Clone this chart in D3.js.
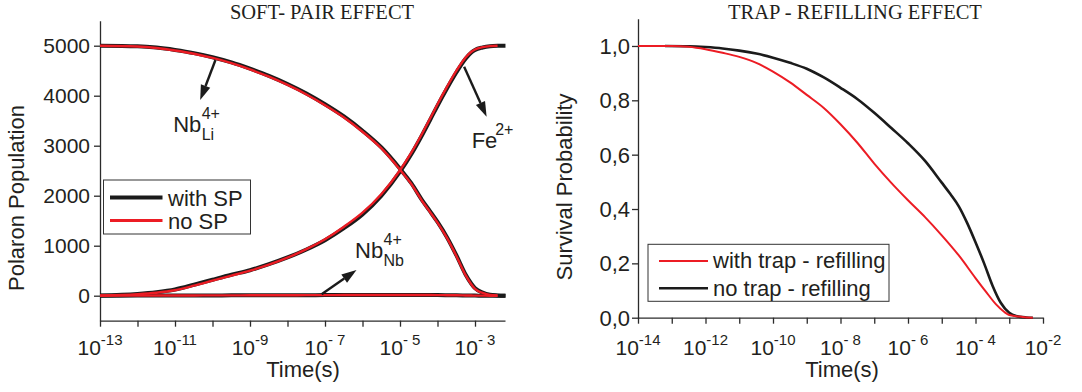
<!DOCTYPE html>
<html><head><meta charset="utf-8">
<script src="https://cdn.jsdelivr.net/npm/d3@7"></script>
<style>
body{margin:0;background:#fff;}
svg text{font-family:"Liberation Sans", Arial, sans-serif; fill:#231f20;}
</style></head><body>
<svg id="c" width="1082" height="392"></svg>
<script>
// ---------- LEFT PANEL DATA (SOFT-PAIR EFFECT) ----------
const leftTimeBlack = [1e-13,1e-12,3.2e-12,1e-11,3.2e-11,1e-10,3.2e-10,1e-9,3.2e-9,1e-8,3.2e-8,1e-7,3.2e-7,1e-6,3.2e-6,1e-5,2e-5,4e-5,6.3e-5,1e-4,1.8e-4,3.2e-4,5.6e-4,8e-4,1e-3,1.6e-3,2.5e-3,4e-3,6.5e-3];
const leftTimeRed   = [1e-13,1e-12,3.2e-12,1e-11,3.2e-11,1e-10,3.2e-10,1e-9,3.2e-9,1e-8,3.2e-8,1e-7,3.2e-7,1e-6,3.2e-6,1e-5,2e-5,4e-5,6.3e-5,1e-4,1.8e-4,3.2e-4,5.6e-4,8e-4,1e-3,1.6e-3,2.5e-3,4e-3];
const nbLiWithSP = [5000,4988,4962,4915,4852,4768,4665,4540,4398,4235,4045,3830,3585,3300,2965,2540,2250,1895,1690,1475,1165,805,425,240,150,60,18,6,0];
const nbLiNoSP   = [5000,4985,4955,4905,4840,4755,4650,4525,4380,4215,4025,3810,3565,3280,2945,2520,2235,1880,1675,1460,1150,790,410,225,135,55,15,5];
const feWithSP   = [5,35,70,125,220,320,420,510,630,765,925,1110,1350,1625,2000,2480,2830,3230,3510,3800,4150,4470,4740,4865,4915,4965,4990,4998,5000];
const feNoSP     = [5,30,60,110,200,300,400,500,620,760,930,1130,1380,1660,2035,2510,2860,3260,3540,3830,4180,4500,4765,4878,4925,4972,4992,4998];
const nbNbWithSP = [0,2,3,4,5,6,7,8,9,10,11,12,13,13,14,14,14,14,13,12,10,8,5,3,2,1,0,0,0];
const nbNbNoSP   = [0,2,3,4,5,6,7,8,9,10,11,12,13,14,15,15,15,15,14,12,10,8,5,3,2,1,0,0];
const leftYTicks = [0,1000,2000,3000,4000,5000];
const leftXTickVals = [1e-13,1e-11,1e-9,1e-7,1e-5,1e-3];
const leftXTickExps = ["-13","-11","-9","- 7","- 5","- 3"];
const leftLegend = ["with SP","no SP"];

// ---------- RIGHT PANEL DATA (TRAP-REFILLING EFFECT) ----------
const rightTimeRed = [1e-14,1e-13,3.2e-13,1e-12,3.2e-12,1e-11,3.2e-11,1e-10,3.2e-10,1e-9,3.2e-9,1e-8,3.2e-8,1e-7,3.2e-7,1e-6,3.2e-6,1e-5,3.2e-5,1e-4,2e-4,4e-4,7e-4,1e-3,2.5e-3,5e-3];
const withTrap     = [1.0,1.0,0.997,0.988,0.975,0.960,0.938,0.906,0.866,0.820,0.772,0.712,0.643,0.567,0.496,0.432,0.370,0.303,0.229,0.146,0.097,0.050,0.022,0.010,0.003,0.0];
const rightTimeBlack = [6.3e-14,3.2e-13,1e-12,3.2e-12,1e-11,3.2e-11,1e-10,3.2e-10,1e-9,3.2e-9,1e-8,3.2e-8,1e-7,3.2e-7,1e-6,3.2e-6,1e-5,1.8e-5,3.2e-5,5.6e-5,1e-4,1.8e-4,3.2e-4,5.6e-4,1e-3,1.6e-3,3.2e-3,5e-3];
const noTrap         = [1.0,0.999,0.996,0.991,0.983,0.972,0.957,0.938,0.916,0.884,0.846,0.804,0.754,0.698,0.642,0.577,0.497,0.455,0.410,0.350,0.278,0.200,0.118,0.055,0.018,0.006,0.001,0.0];
const rightYTicks = [0,0.2,0.4,0.6,0.8,1.0];
const rightYLabels = ["0,0","0,2","0,4","0,6","0,8","1,0"];
const rightXTickVals = [1e-14,1e-12,1e-10,1e-8,1e-6,1e-4,1e-2];
const rightXTickExps = ["-14","-12","-10","- 8","- 6","- 4","-2"];
const rightLegend = ["with trap - refilling","no trap - refilling"];

const BLACK = "#1b1b1b", RED = "#ec1c24", AXIS = "#2b2b2b";
const svg = d3.select("#c");

function minorLogTicks(lo, hi){
  const out=[];
  for(let e=Math.floor(Math.log10(lo)); e<=Math.ceil(Math.log10(hi)); e++){
    for(let k=2;k<=9;k++){ const v=k*Math.pow(10,e); if(v>lo && v<hi*1.0001) out.push(v); }
  }
  return out;
}

function drawAxes(g, x, y, xMajor, xMinor, yMajor, yMinor){
  const h = y.range()[0];
  const x0 = x.range()[0];
  const ax = g.append("g").attr("transform",`translate(0,${h})`);
  ax.call(d3.axisBottom(x).tickValues(xMinor).tickSize(3.5).tickSizeOuter(0).tickFormat(""));
  ax.call(d3.axisBottom(x).tickValues(xMajor).tickSize(6).tickSizeOuter(0).tickFormat(""));
  const ay = g.append("g").attr("transform",`translate(${x0},0)`);
  ay.call(d3.axisLeft(y).tickValues(yMinor).tickSize(3.5).tickSizeOuter(0).tickFormat(""));
  ay.call(d3.axisLeft(y).tickValues(yMajor).tickSize(6).tickSizeOuter(0).tickFormat(""));
  g.selectAll(".domain, .tick line").attr("stroke",AXIS).attr("stroke-width",1.3);
}

function xLabels(g, x, vals, exps, baseY){
  vals.forEach((v,i)=>{
    const t = g.append("text").attr("x",x(v)).attr("y",baseY).attr("text-anchor","middle").style("font-size","21px");
    t.append("tspan").text("10");
    t.append("tspan").attr("dy",-10).style("font-size","15px").text(exps[i]);
  });
}

function arrow(g, x1,y1,x2,y2){
  const ang=Math.atan2(y2-y1,x2-x1), L=15, W=5;
  const bx=x2-L*Math.cos(ang), by=y2-L*Math.sin(ang);
  g.append("line").attr("x1",x1).attr("y1",y1).attr("x2",bx).attr("y2",by).attr("stroke",BLACK).attr("stroke-width",2.4);
  g.append("path").attr("d",`M${x2},${y2}L${bx+W*Math.sin(ang)},${by-W*Math.cos(ang)}L${bx-W*Math.sin(ang)},${by+W*Math.cos(ang)}Z`).attr("fill",BLACK);
}

function chemLabel(g, px, py, main, sup, sub){
  g.append("text").attr("x",px).attr("y",py).style("font-size","22px").text(main);
  const w = main==="Fe"?23.5:28.5;
  g.append("text").attr("x",px+w).attr("y",py-13).style("font-size","16px").text(sup);
  if(sub) g.append("text").attr("x",px+w).attr("y",py+8).style("font-size","16px").text(sub);
}

const titleFont = "'Liberation Serif', 'Times New Roman', serif";

// ================= LEFT =================
{
  const g = svg.append("g");
  const x = d3.scaleLog().domain([1e-13, Math.pow(10,-2.2)]).range([100,505]);
  const y = d3.scaleLinear().domain([-500,5500]).range([320.7,20.7]);
  drawAxes(g,x,y,d3.range(-13,-2).map(e=>Math.pow(10,e)),minorLogTicks(1e-13,Math.pow(10,-2.2)),leftYTicks,d3.range(-500,5501,500));
  xLabels(g,x,leftXTickVals,leftXTickExps,354.5);
  leftYTicks.forEach(v=>g.append("text").attr("x",90).attr("y",y(v)).attr("dy","0.36em").attr("text-anchor","end").style("font-size","21px").text(v));
  g.append("text").attr("transform","rotate(-90)").attr("x",-198).attr("y",24).attr("text-anchor","middle").style("font-size","22px").text("Polaron Population");
  g.append("text").attr("x",303).attr("y",377).attr("text-anchor","middle").style("font-size","22px").text("Time(s)");
  g.append("text").attr("x",322).attr("y",18.5).attr("text-anchor","middle").style("font-family",titleFont).style("font-size","20.5px").text("SOFT- PAIR EFFECT");

  const line = (ts)=>d3.line().x((d,i)=>x(ts[i])).y(d=>y(d)).curve(d3.curveMonotoneX);
  [nbLiWithSP, feWithSP, nbNbWithSP].forEach(s=>g.append("path").attr("d",line(leftTimeBlack)(s)).attr("fill","none").attr("stroke",BLACK).attr("stroke-width",4).attr("stroke-linejoin","round"));
  [nbLiNoSP, feNoSP, nbNbNoSP].forEach(s=>g.append("path").attr("d",line(leftTimeRed)(s)).attr("fill","none").attr("stroke",RED).attr("stroke-width",2.4).attr("stroke-linejoin","round"));

  // annotations (anchored in data space)
  arrow(g, x(1.2e-10), y(4714), x(4.7e-11), y(3914));
  chemLabel(g, x(Math.pow(10,-11.05)), y(3274), "Nb","4+","Li");
  arrow(g, x(Math.pow(10,-3.29)), y(4580), x(Math.pow(10,-2.69)), y(3580));
  chemLabel(g, x(Math.pow(10,-3.09)), y(2948), "Fe","2+",null);
  arrow(g, x(Math.pow(10,-7.09)), y(28), x(Math.pow(10,-6.16)), y(514));
  chemLabel(g, x(Math.pow(10,-6.2)), y(748), "Nb","4+","Nb");

  // legend
  const lg = g.append("g");
  lg.append("rect").attr("x",103.5).attr("y",180).attr("width",147).attr("height",54).attr("fill","#fff").attr("stroke","#333").attr("stroke-width",1);
  [[BLACK,4],[RED,3]].forEach((c,i)=>{
    const yy = 197.5 + i*23;
    lg.append("line").attr("x1",110).attr("x2",162.5).attr("y1",yy).attr("y2",yy).attr("stroke",c[0]).attr("stroke-width",c[1]);
    lg.append("text").attr("x",168).attr("y",yy+8).style("font-size","22px").text(leftLegend[i]);
  });
}

// ================= RIGHT =================
{
  const g = svg.append("g");
  const x = d3.scaleLog().domain([1e-14,1e-2]).range([638,1043]);
  const y = d3.scaleLinear().domain([0,1.1]).range([317.7,18.8]);
  drawAxes(g,x,y,d3.range(-14,-1).map(e=>Math.pow(10,e)),minorLogTicks(1e-14,1e-2),rightYTicks,d3.range(0,11).map(i=>i/10));
  xLabels(g,x,rightXTickVals,rightXTickExps,354.5);
  rightYTicks.forEach((v,i)=>g.append("text").attr("x",630).attr("y",y(v)).attr("dy","0.36em").attr("text-anchor","end").style("font-size","22px").text(rightYLabels[i]));
  g.append("text").attr("transform","rotate(-90)").attr("x",-187).attr("y",572).attr("text-anchor","middle").style("font-size","22px").text("Survival Probability");
  g.append("text").attr("x",842).attr("y",377).attr("text-anchor","middle").style("font-size","22px").text("Time(s)");
  g.append("text").attr("x",855).attr("y",18.5).attr("text-anchor","middle").style("font-family",titleFont).style("font-size","20.5px").text("TRAP - REFILLING EFFECT");

  const line = (ts)=>d3.line().x((d,i)=>x(ts[i])).y(d=>y(d)).curve(d3.curveMonotoneX);
  g.append("path").attr("d",line(rightTimeBlack)(noTrap)).attr("fill","none").attr("stroke",BLACK).attr("stroke-width",2.6);
  g.append("path").attr("d",line(rightTimeRed)(withTrap)).attr("fill","none").attr("stroke",RED).attr("stroke-width",2);

  const lg = g.append("g");
  lg.append("rect").attr("x",648).attr("y",244.3).attr("width",241).attr("height",57).attr("fill","#fff").attr("stroke","#333").attr("stroke-width",1);
  [[RED,2],[BLACK,2.6]].forEach((c,i)=>{
    const yy = 260.9 + i*27.4;
    lg.append("line").attr("x1",659).attr("x2",708).attr("y1",yy).attr("y2",yy).attr("stroke",c[0]).attr("stroke-width",c[1]);
    lg.append("text").attr("x",713).attr("y",yy+7.5).style("font-size","22px").text(rightLegend[i]);
  });
}
</script>
</body></html>
